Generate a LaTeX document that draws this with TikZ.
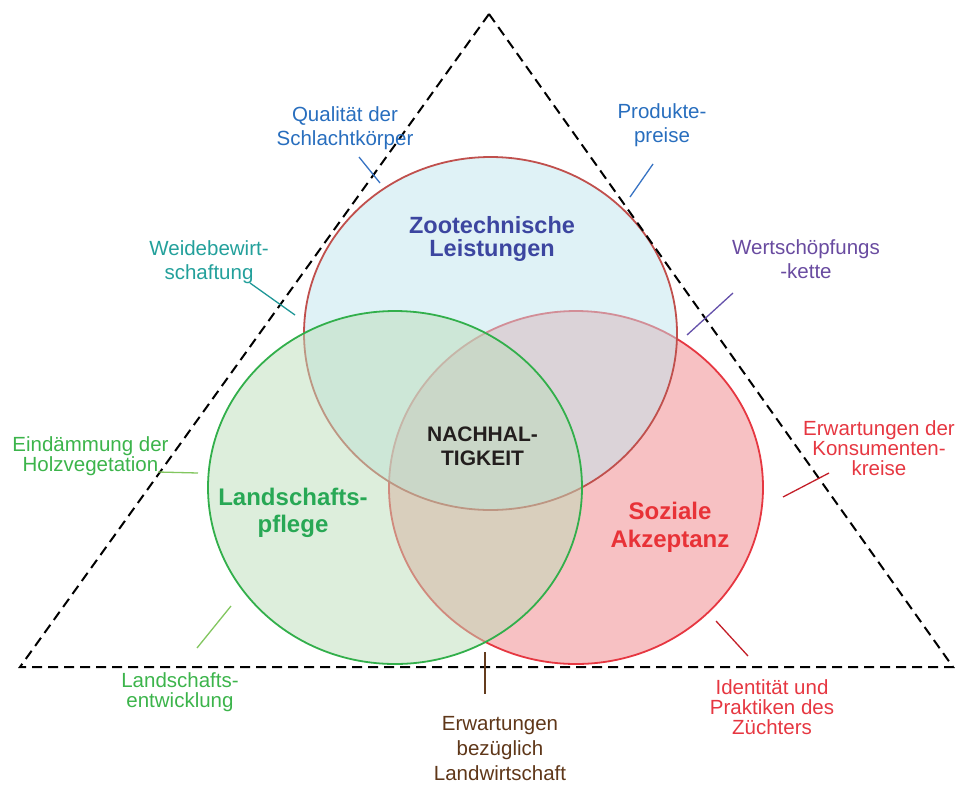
\documentclass[tikz,border=0pt]{standalone}
\usepackage{fontspec}
\setmainfont{Liberation Sans}
\definecolor{fillR}{RGB}{239,131,135}
\definecolor{fillT}{RGB}{191,229,237}
\definecolor{fillG}{RGB}{187,221,185}
\definecolor{lineR}{RGB}{230,55,65}
\definecolor{lineT}{RGB}{192,80,77}
\definecolor{lineG}{RGB}{50,175,75}
\definecolor{tZoo}{RGB}{60,70,160}
\definecolor{tLand}{RGB}{40,168,85}
\definecolor{tSoz}{RGB}{232,50,55}
\definecolor{tNach}{RGB}{35,30,30}
\definecolor{tBlue}{RGB}{40,110,190}
\definecolor{tTeal}{RGB}{35,160,155}
\definecolor{tPurple}{RGB}{105,75,160}
\definecolor{tRed}{RGB}{230,55,65}
\definecolor{tGreen}{RGB}{60,180,75}
\definecolor{tBrown}{RGB}{95,55,25}
\definecolor{cBlue}{RGB}{55,115,195}
\definecolor{cTeal}{RGB}{30,150,150}
\definecolor{cPurple}{RGB}{100,80,170}
\definecolor{cRed}{RGB}{195,30,40}
\definecolor{cGreen}{RGB}{130,198,95}
\definecolor{cBrown}{RGB}{100,60,30}
\begin{document}
\begin{tikzpicture}[x=1pt,y=-1pt,
  lbl/.style={inner sep=0pt, align=center, font=\fontsize{20.5}{20}\selectfont},
  lblwide/.style={inner sep=0pt, align=center, font=\fontsize{20.5}{24.5}\selectfont},
  ttl/.style={inner sep=0pt, align=center},
  con/.style={line width=1.3pt},
  circ/.style={fill opacity=0.5, line width=1.8pt}]
\useasboundingbox (0,0) rectangle (955,785);

% circles (order: red, top, green)
\path[circ, fill=fillR, draw=lineR] (576,487.5) ellipse [x radius=187pt, y radius=176.5pt];
\path[circ, fill=fillT, draw=lineT] (490.5,333.5) ellipse [x radius=186.5pt, y radius=176.5pt];
\path[circ, fill=fillG, draw=lineG] (395,487.5) ellipse [x radius=187pt, y radius=176.5pt];

% dashed triangle
\coordinate (apex) at (489,14);
\coordinate (bl) at (20,667);
\coordinate (br) at (953,667);
\draw[line width=2pt, dash pattern=on 10pt off 6pt] (apex) -- (br) -- (bl) -- cycle;

% titles
\node[ttl, text=tZoo, font=\bfseries\fontsize{23.5}{23.6}\selectfont] (zoo) at (492,239) {Zootechnische\\Leistungen};
\node[ttl, text=tNach, font=\bfseries\fontsize{21}{24.2}\selectfont] (nach) at (482.5,446) {NACHHAL-\\TIGKEIT};
\node[ttl, text=tLand, font=\bfseries\fontsize{24}{27}\selectfont] (land) at (293,513) {Landschafts-\\pflege};
\node[ttl, text=tSoz, font=\bfseries\fontsize{24}{28.4}\selectfont] (soz) at (670,527) {Soziale\\Akzeptanz};

% outer labels
\node[lblwide, text=tBlue] (qual) at (345,128) {Qualität der\\Schlachtkörper};
\node[lblwide, text=tBlue] (prod) at (662,125) {Produkte-\\preise};
\node[lblwide, text=tTeal] (weide) at (209,262) {Weidebewirt-\\schaftung};
\node[lblwide, text=tPurple] (wert) at (806,259) {Wertschöpfungs\\-kette};
\node[lbl, text=tRed] (konsum) at (879,448) {Erwartungen der\\Konsumenten-\\kreise};
\node[lbl, text=tGreen] (eind) at (90.5,456) {Eindämmung der\\Holzvegetation};
\node[lbl, text=tGreen] (lentw) at (180,692) {Landschafts-\\entwicklung};
\node[inner sep=0pt, align=center, font=\fontsize{20.5}{25}\selectfont, text=tBrown] (lw) at (500,749) {Erwartungen\\bezüglich\\Landwirtschaft};
\node[lbl, text=tRed] (ident) at (772,707) {Identität und\\Praktiken des\\Züchters};

% connector ends
\coordinate (qualA) at (359,157);   \coordinate (qualB) at (380,183);
\coordinate (prodA) at (653,164);   \coordinate (prodB) at (630,197);
\coordinate (weideA) at (250,283);  \coordinate (weideB) at (295,315);
\coordinate (wertA) at (733,293);   \coordinate (wertB) at (687,335);
\coordinate (konsA) at (829,473);   \coordinate (konsB) at (783,497);
\coordinate (eindA) at (158,472);   \coordinate (eindB) at (198,473);
\coordinate (lentwA) at (231,606);  \coordinate (lentwB) at (197,648);
\coordinate (lwA) at (485,652);     \coordinate (lwB) at (485,694);
\coordinate (identA) at (716,621);  \coordinate (identB) at (748,656);

\draw[con, cBlue] (qualA) -- (qualB);
\draw[con, cBlue] (prodA) -- (prodB);
\draw[con, cTeal] (weideA) -- (weideB);
\draw[con, cPurple] (wertA) -- (wertB);
\draw[con, cRed] (konsA) -- (konsB);
\draw[con, cGreen] (eindA) -- (eindB);
\draw[con, cGreen] (lentwA) -- (lentwB);
\draw[con, cBrown] (lwA) -- (lwB);
\draw[con, cRed] (identA) -- (identB);
\end{tikzpicture}
\end{document}
